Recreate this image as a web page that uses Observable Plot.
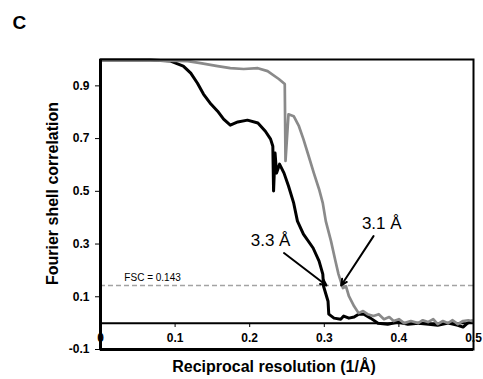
<!DOCTYPE html>
<html>
<head>
<meta charset="utf-8">
<script src="https://cdn.jsdelivr.net/npm/d3@7"></script>
<script src="https://cdn.jsdelivr.net/npm/@observablehq/plot@0.6"></script>
<style>
  body { margin: 0; background: #fff; }
  #chart svg { display: block; }
</style>
</head>
<body>
<div id="chart"></div>
<script>
// Panel text
const panelLabel = "C";
const xLabel = "Reciprocal resolution (1/Å)";
const yLabel = "Fourier shell correlation";

// Axis ticks
const xTicks = [0, 0.1, 0.2, 0.3, 0.4, 0.5];
const yTicks = [-0.1, 0.1, 0.3, 0.5, 0.7, 0.9];
const xDomain = [0, 0.5];
const yDomain = [-0.1, 1.0];

// Gold-standard threshold
const threshold = 0.143;
const thresholdLabel = "FSC = 0.143";

// FSC curve of the 3.3 Å map (black)
const blackX = [0, 0.067, 0.094, 0.111, 0.121, 0.130, 0.138, 0.148, 0.157, 0.165, 0.174, 0.184, 0.197, 0.211, 0.221, 0.228, 0.231, 0.232, 0.234, 0.236, 0.240, 0.246, 0.252, 0.259, 0.264, 0.272, 0.285, 0.293, 0.298, 0.299, 0.305, 0.306, 0.313, 0.322, 0.326, 0.333, 0.340, 0.346, 0.353, 0.362, 0.372, 0.385, 0.399, 0.412, 0.426, 0.440, 0.452, 0.466, 0.479, 0.486, 0.492, 0.498];
const blackY = [0.998, 0.998, 0.994, 0.975, 0.948, 0.910, 0.869, 0.831, 0.804, 0.774, 0.751, 0.763, 0.770, 0.759, 0.728, 0.698, 0.671, 0.501, 0.645, 0.569, 0.603, 0.569, 0.520, 0.455, 0.387, 0.338, 0.285, 0.235, 0.186, 0.140, 0.083, 0.034, 0.019, 0.015, 0.027, 0.019, 0.023, 0.034, 0.034, 0.019, 0.0, -0.004, 0.004, -0.004, 0.0, -0.004, -0.008, 0.0, -0.008, -0.015, 0.0, 0.008];

// FSC curve of the 3.1 Å map (gray)
const grayX = [0, 0.054, 0.117, 0.134, 0.157, 0.174, 0.192, 0.211, 0.224, 0.239, 0.247, 0.248, 0.252, 0.259, 0.266, 0.272, 0.279, 0.286, 0.293, 0.298, 0.302, 0.309, 0.315, 0.319, 0.325, 0.329, 0.333, 0.340, 0.346, 0.352, 0.358, 0.366, 0.373, 0.380, 0.387, 0.393, 0.400, 0.407, 0.416, 0.426, 0.432, 0.439, 0.446, 0.452, 0.459, 0.466, 0.472, 0.479, 0.486, 0.493, 0.498];
const grayY = [0.998, 0.998, 0.994, 0.986, 0.975, 0.967, 0.964, 0.967, 0.956, 0.926, 0.907, 0.615, 0.792, 0.785, 0.747, 0.698, 0.634, 0.569, 0.508, 0.455, 0.387, 0.311, 0.235, 0.186, 0.133, 0.140, 0.102, 0.064, 0.038, 0.046, 0.034, 0.027, 0.034, 0.015, 0.023, 0.008, 0.015, 0.0, 0.008, 0.0, 0.011, 0.004, 0.015, -0.004, 0.008, 0.0, 0.011, -0.004, 0.008, 0.011, 0.008];

// Resolution call-outs: label, resolution (Å), text anchor and arrow tail
const calloutLabels = ["3.3 Å", "3.1 Å"];
const calloutRes = [3.3, 3.1];
const calloutTextX = [0.228, 0.377];
const calloutTextY = [0.315, 0.379];
const calloutTailX = [0.246, 0.366];
const calloutTailY = [0.266, 0.330];
const thresholdLabelX = 0.032;

const black = blackX.map((x, i) => ({x, y: blackY[i]}));
const gray = grayX.map((x, i) => ({x, y: grayY[i]}));
const callouts = calloutLabels.map((label, i) => ({
  label, res: calloutRes[i],
  tx: calloutTextX[i], ty: calloutTextY[i],
  ax: calloutTailX[i], ay: calloutTailY[i]
}));

const font = "'Liberation Sans', Arial, Helvetica, sans-serif";

const chart = Plot.plot({
  width: 483,
  height: 379,
  marginLeft: 100,
  marginRight: 10,
  marginTop: 59,
  marginBottom: 30,
  style: {fontFamily: font, background: "#fff", color: "#000"},
  x: {domain: xDomain, axis: null},
  y: {domain: yDomain, axis: null},
  marks: [
    // threshold line and its label
    Plot.ruleY([threshold], {stroke: "#a3a3a3", strokeWidth: 1.4, strokeDasharray: "5,3"}),
    Plot.text([thresholdLabel], {x: thresholdLabelX, y: threshold, dy: -8, textAnchor: "start", fontSize: 10, fill: "#000"}),
    // zero line carrying the x ticks
    Plot.ruleY([0], {stroke: "#000", strokeWidth: 2}),
    Plot.axisX(xTicks, {anchor: "bottom", dy: -26, tickSize: 4, tickPadding: 6, tickFormat: d => String(d), fontSize: 12, fontWeight: "bold", stroke: "#000"}),
    Plot.axisY(yTicks, {anchor: "left", tickSize: 5, tickPadding: 6, tickFormat: d => String(d), fontSize: 12, fontWeight: "bold", stroke: "#000"}),
    // curves
    Plot.line(black, {x: "x", y: "y", stroke: "#000", strokeWidth: 3, strokeLinejoin: "round"}),
    Plot.line(gray, {x: "x", y: "y", stroke: "#8a8a8a", strokeWidth: 2.7, strokeLinejoin: "round"}),
    // frame and heavier axis lines
    Plot.frame({stroke: "#000", strokeWidth: 2}),
    Plot.ruleX([xDomain[0]], {stroke: "#000", strokeWidth: 3}),
    Plot.ruleY([yDomain[0]], {stroke: "#000", strokeWidth: 3}),
    // call-outs
    Plot.arrow(callouts, {x1: "ax", y1: "ay", x2: d => 1 / d.res, y2: threshold, stroke: "#000", strokeWidth: 2, headLength: 5, headAngle: 50}),
    Plot.text(callouts, {x: "tx", y: "ty", text: "label", fontSize: 17, fill: "#000"}),
    // titles
    Plot.text([panelLabel], {frameAnchor: "top-left", dx: -88, dy: -44, textAnchor: "start", lineAnchor: "top", fontSize: 19, fontWeight: "bold", fill: "#000"}),
    Plot.text([yLabel], {frameAnchor: "left", rotate: -90, dx: -48, dy: -11, textAnchor: "middle", lineAnchor: "middle", fontSize: 16, fontWeight: "bold", fill: "#000"}),
    Plot.text([xLabel], {frameAnchor: "bottom", dx: -13, dy: 17, textAnchor: "middle", lineAnchor: "middle", fontSize: 16, fontWeight: "bold", fill: "#000"})
  ]
});

document.getElementById("chart").append(chart);
</script>
</body>
</html>
